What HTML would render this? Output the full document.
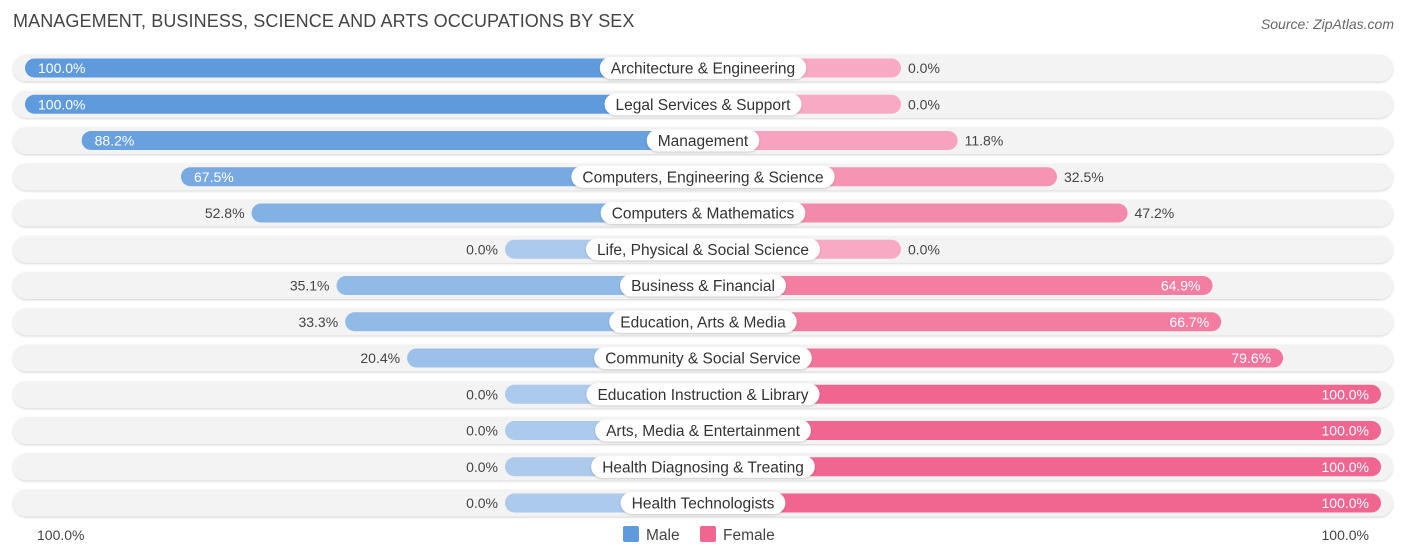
<!DOCTYPE html>
<html><head><meta charset="utf-8"><style>
body{margin:0;background:#fff;font-family:"Liberation Sans",sans-serif;}
#wrap{position:relative;width:1406px;height:559px;overflow:hidden}
.title{position:absolute;left:13px;top:11px;font-size:18px;color:#444;letter-spacing:0.1px}
.src{position:absolute;right:12px;top:16px;font-size:14px;color:#666;font-style:italic}
</style></head><body>
<div id="wrap">
<div class="title">MANAGEMENT, BUSINESS, SCIENCE AND ARTS OCCUPATIONS BY SEX</div>
<div class="src">Source: ZipAtlas.com</div>
<svg id="svg" width="1406" height="559" style="position:absolute;left:0;top:0"></svg>
</div>
<script>
const categories=["Architecture & Engineering","Legal Services & Support","Management","Computers, Engineering & Science","Computers & Mathematics","Life, Physical & Social Science","Business & Financial","Education, Arts & Media","Community & Social Service","Education Instruction & Library","Arts, Media & Entertainment","Health Diagnosing & Treating","Health Technologists"];
const maleValues=[100,100,88.2,67.5,52.8,0,35.1,33.3,20.4,0,0,0,0];
const femaleValues=[0,0,11.8,32.5,47.2,0,64.9,66.7,79.6,100,100,100,100];
const axisLabels=["100.0%","100.0%"];
const NS="http://www.w3.org/2000/svg";
const svg=document.getElementById('svg');
const cx=703, base=198, scale=4.8, y0=68, step=36.25;
function len(v){return base+scale*v;}
function rowY(i){return y0+i*step;}
function mix(a,b,t){return 'rgb('+a.map((x,k)=>Math.round(x+(b[k]-x)*t)).join(',')+')';}
const mLight=[172,202,236], mDark=[95,155,220], fLight=[248,170,196], fDark=[240,102,144];
function mk(tag,attrs){const e=document.createElementNS(NS,tag);for(const k in attrs)e.setAttribute(k,attrs[k]);svg.appendChild(e);return e;}
const defs=mk('defs',{});
defs.innerHTML='<filter id="sh" x="-5%" y="-50%" width="110%" height="200%"><feDropShadow dx="0" dy="1" stdDeviation="1" flood-color="#000" flood-opacity="0.18"/></filter>';
categories.forEach((c,i)=>{
  const y=rowY(i);
  const bg=mk('rect',{x:13,y:y-13.5,width:1380,height:27,rx:13.5,fill:'#f3f3f3',filter:'url(#sh)'});
  
  
  const mv=maleValues[i], fv=femaleValues[i];
  const ml=len(mv), fl=len(fv);
  const mb=mk('rect',{x:cx-ml,y:y-9.5,width:ml,height:19,rx:9.5,fill:mix(mLight,mDark,mv/100)});
  
  
  const fb=mk('rect',{x:cx,y:y-9.5,width:fl,height:19,rx:9.5,fill:mix(fLight,fDark,fv/100)});
  
  
  // male value label
  const mIn=mv>=60;
  const mt=mk('text',{x:mIn?cx-ml+13:cx-ml-7,y:y+5,'font-size':14,fill:mIn?'#fff':'#444','text-anchor':mIn?'start':'end','font-family':'Liberation Sans, sans-serif'});
  mt.textContent=mv.toFixed(1)+'%';
  
  
  const fIn=fv>=60;
  const ft=mk('text',{x:fIn?cx+fl-12:cx+fl+7,y:y+5,'font-size':14,fill:fIn?'#fff':'#444','text-anchor':fIn?'end':'start','font-family':'Liberation Sans, sans-serif'});
  ft.textContent=fv.toFixed(1)+'%';
  
  
  // category label
  const lt=mk('text',{x:cx,y:y+5.5,'font-size':15.5,fill:'#333','text-anchor':'middle','font-family':'Liberation Sans, sans-serif'});
  lt.textContent=c;
  
  
  const w=lt.getComputedTextLength()+22;
  const pill=mk('rect',{x:cx-w/2,y:y-11,width:w,height:22,rx:11,fill:'#fff',filter:'url(#sh)'});
  
  
  svg.insertBefore(pill,lt);
});
const al=mk('text',{x:37,y:540,'font-size':14,fill:'#444','font-family':'Liberation Sans, sans-serif'});
al.textContent=axisLabels[0];


const ar=mk('text',{x:1369,y:540,'font-size':14,fill:'#444','text-anchor':'end','font-family':'Liberation Sans, sans-serif'});
ar.textContent=axisLabels[1];


const lm=mk('rect',{x:623,y:526,width:16,height:16,rx:2,fill:'#5f9bdc'});


const lmt=mk('text',{x:646,y:540,'font-size':15.5,fill:'#444','font-family':'Liberation Sans, sans-serif'});
lmt.textContent='Male';


const lf=mk('rect',{x:700,y:526,width:16,height:16,rx:2,fill:'#f06690'});


const lft=mk('text',{x:723,y:540,'font-size':15.5,fill:'#444','font-family':'Liberation Sans, sans-serif'});
lft.textContent='Female';


</script>
</body></html>
